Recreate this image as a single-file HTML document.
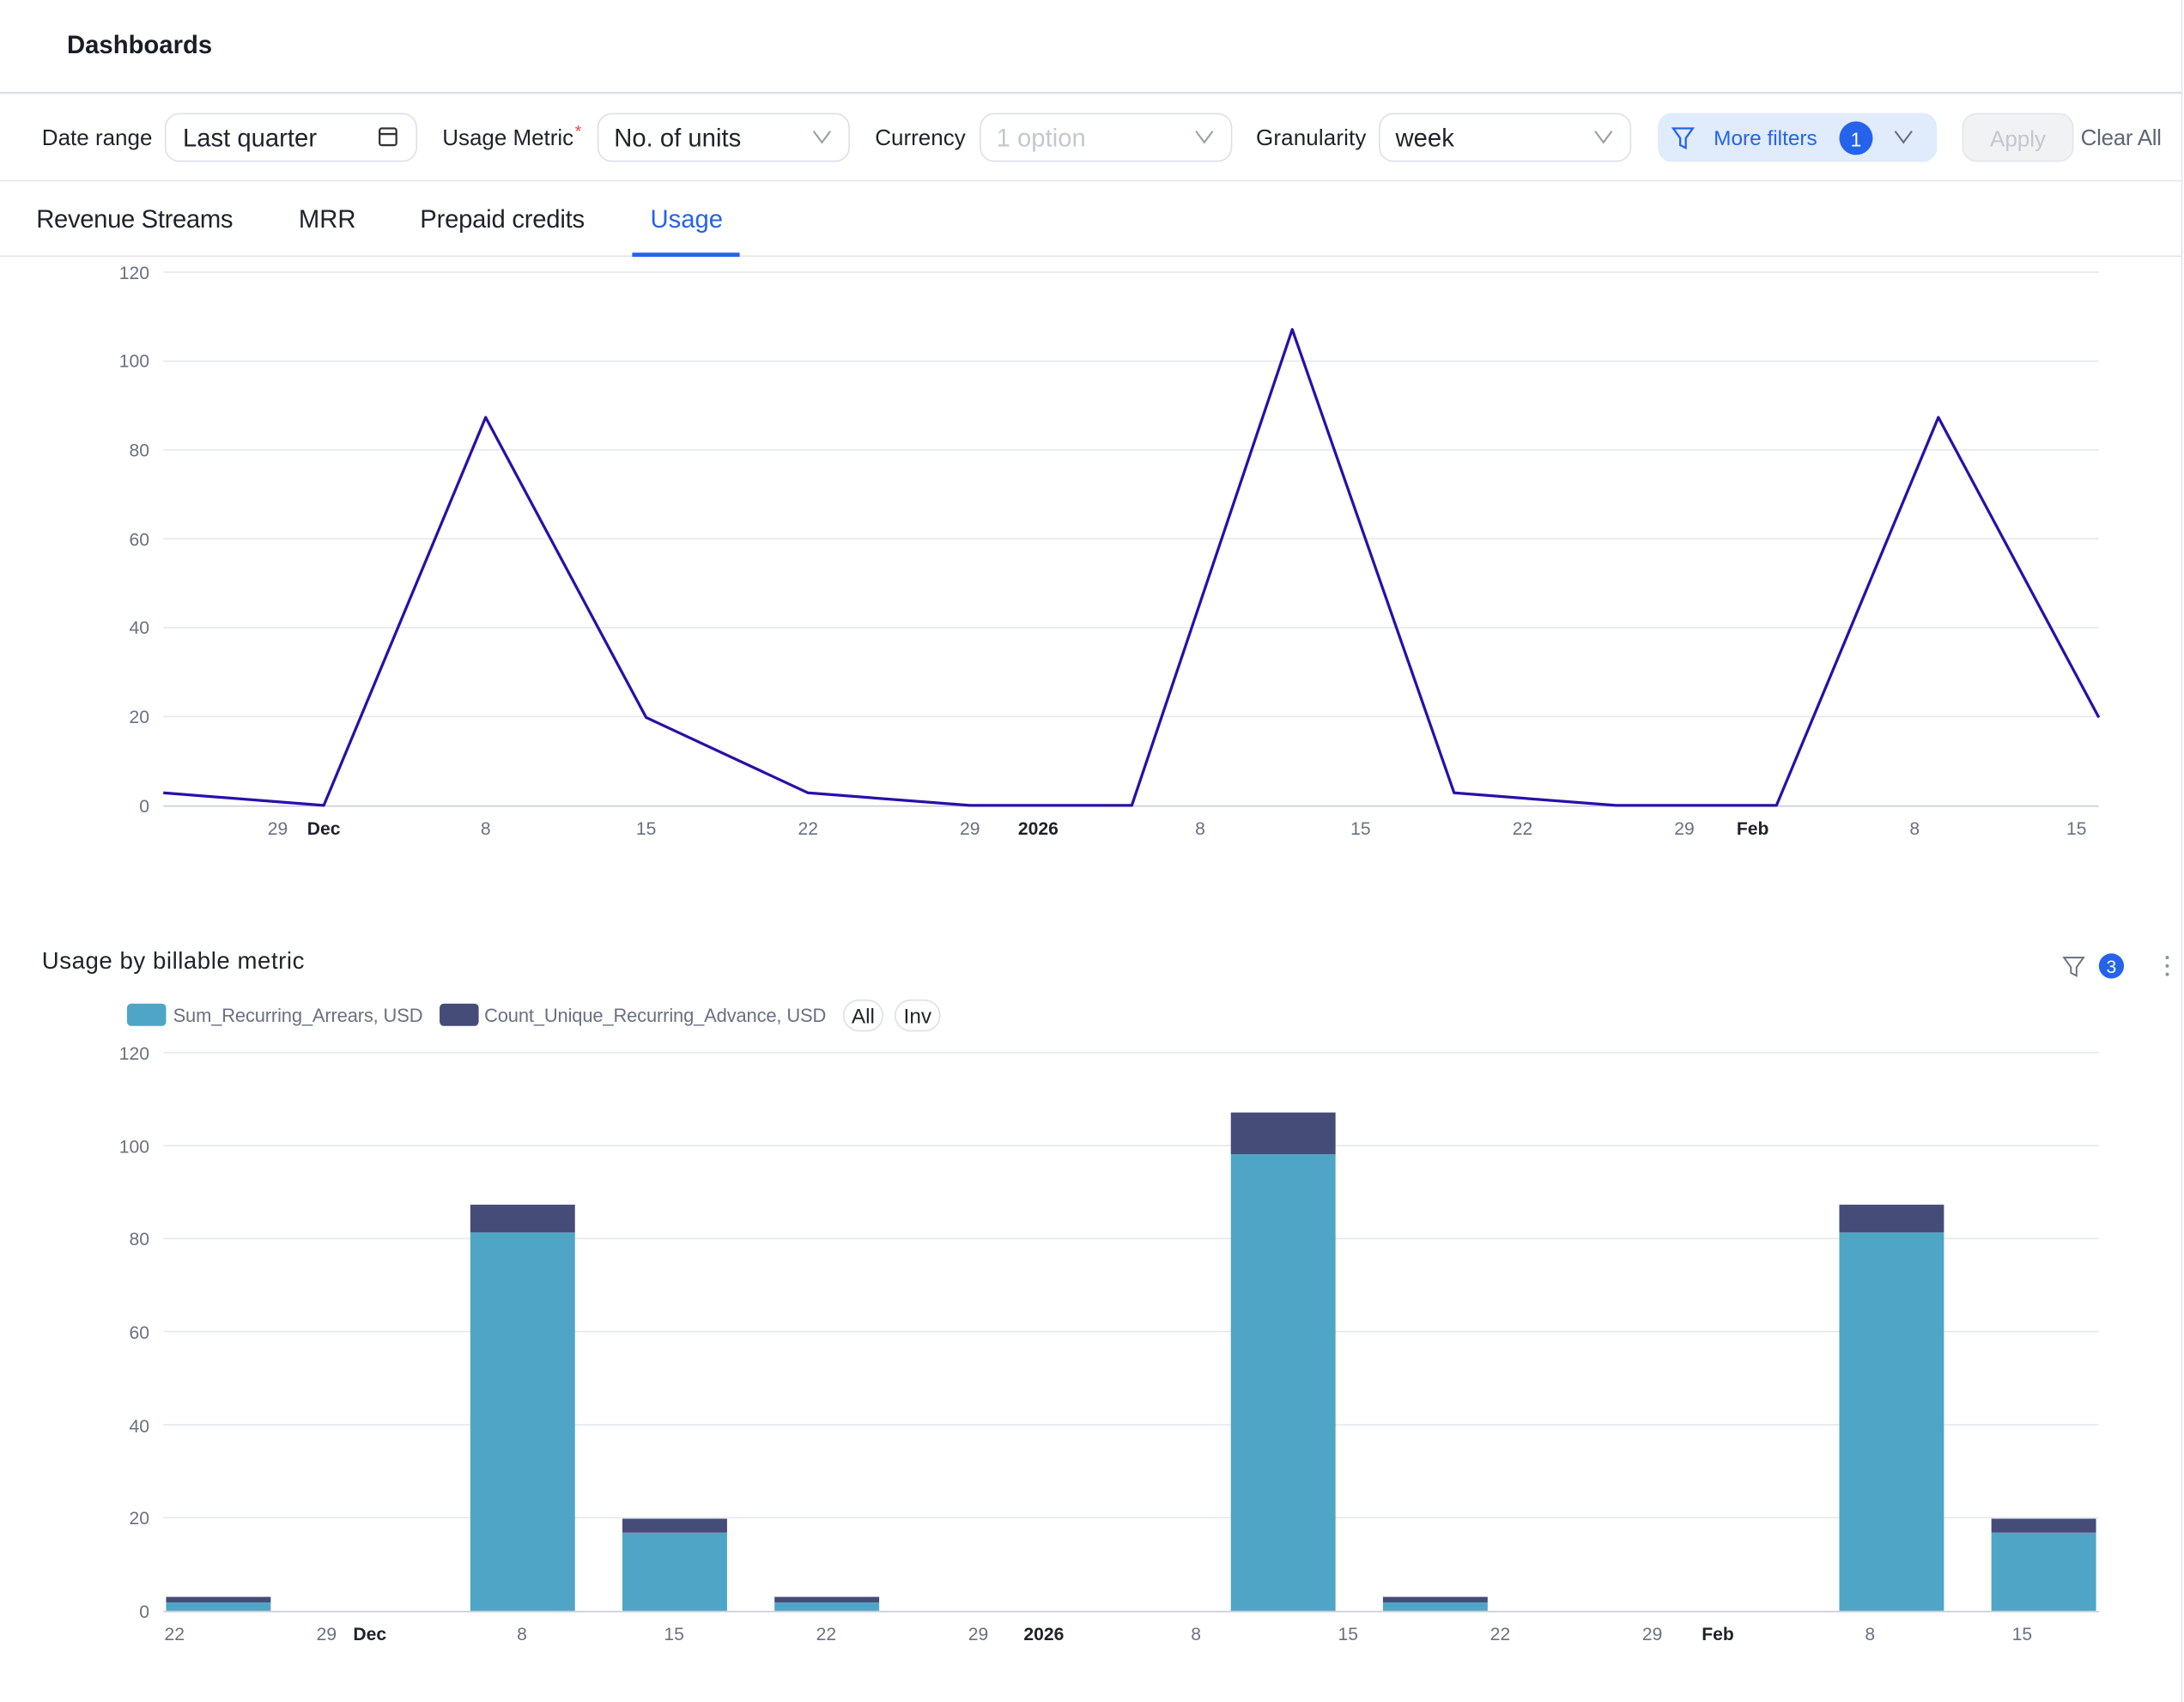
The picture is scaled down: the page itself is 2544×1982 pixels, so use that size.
<!DOCTYPE html>
<html><head><meta charset="utf-8"><style>
html,body{margin:0;padding:0;background:#fff;}
svg{display:block;font-family:"Liberation Sans",Arial,sans-serif;}
</style></head><body>
<svg width="2544" height="1982" viewBox="0 0 1565 1219.3" xmlns="http://www.w3.org/2000/svg">
<rect width="1565" height="1220" fill="#fff"/>
<line x1="1563.5" y1="0" x2="1563.5" y2="1220" stroke="#e3e5ea"/>
<text x="48" y="38" font-size="18" font-weight="bold" fill="#1a1d24">Dashboards</text>
<line x1="0" y1="66.5" x2="1563" y2="66.5" stroke="#dcdfe5" stroke-width="1.5"/>
<g font-size="16" fill="#1f2329">
<text x="30" y="104">Date range</text>
<rect x="118.5" y="81.5" width="180" height="34" rx="10" fill="#fff" stroke="#dde0e6"/>
<text x="131" y="105" font-size="18">Last quarter</text>
<rect x="272" y="92" width="12" height="12" rx="1.5" fill="none" stroke="#333" stroke-width="1.4"/>
<line x1="272" y1="96" x2="284" y2="96" stroke="#333" stroke-width="1.4"/>
<text x="317" y="104" textLength="94">Usage Metric</text><text x="412" y="98" fill="#e5484d" font-size="12">*</text>
<rect x="428.5" y="81.5" width="180" height="34" rx="10" fill="#fff" stroke="#dde0e6"/>
<text x="440" y="105" font-size="18">No. of units</text>
<path d="M583 94 l6 8 l6 -8" fill="none" stroke="#9aa0aa" stroke-width="1.3"/>
<text x="627" y="104">Currency</text>
<rect x="702.5" y="81.5" width="180" height="34" rx="10" fill="#fff" stroke="#dde0e6"/>
<text x="714" y="105" font-size="18" fill="#c4c7cd">1 option</text>
<path d="M857 94 l6 8 l6 -8" fill="none" stroke="#9aa0aa" stroke-width="1.3"/>
<text x="900" y="104" textLength="79">Granularity</text>
<rect x="988.5" y="81.5" width="180" height="34" rx="10" fill="#fff" stroke="#dde0e6"/>
<text x="1000" y="105" font-size="18">week</text>
<path d="M1143 94 l6 8 l6 -8" fill="none" stroke="#9aa0aa" stroke-width="1.3"/>
<rect x="1188" y="81" width="200" height="35" rx="10" fill="#e0ebfc"/>
<path d="M1199 92 h14 l-5 7 v7 l-4 -2 v-5 z" fill="none" stroke="#2563eb" stroke-width="1.4"/>
<text x="1228" y="104" fill="#2563eb" font-size="15">More filters</text>
<circle cx="1330" cy="99" r="12" fill="#2563eb"/>
<text x="1330" y="105" fill="#fff" font-size="14" text-anchor="middle">1</text>
<path d="M1358 94 l6 8 l6 -8" fill="none" stroke="#6a7080" stroke-width="1.3"/>
<rect x="1406.5" y="81.5" width="79" height="34" rx="10" fill="#f1f2f4" stroke="#e3e5ea"/>
<text x="1446" y="105" fill="#c4c7cd" text-anchor="middle">Apply</text>
<text x="1491" y="104" fill="#5e6675" textLength="58">Clear All</text>
</g>
<line x1="0" y1="129.5" x2="1563" y2="129.5" stroke="#e3e5ea"/>
<g font-size="18" fill="#1f2329">
<text x="26" y="163" textLength="141">Revenue Streams</text>
<text x="214" y="163">MRR</text>
<text x="301" y="163" textLength="118">Prepaid credits</text>
<text x="466" y="163" fill="#2563eb">Usage</text>
</g>
<line x1="0" y1="183.5" x2="1563" y2="183.5" stroke="#e3e5ea"/>
<rect x="453" y="181" width="77" height="3" fill="#2563eb"/>
<g stroke="#e6e8ec" stroke-width="1">
<line x1="117" y1="195" x2="1504" y2="195"/><line x1="117" y1="258.7" x2="1504" y2="258.7"/>
<line x1="117" y1="322.3" x2="1504" y2="322.3"/><line x1="117" y1="386" x2="1504" y2="386"/>
<line x1="117" y1="449.7" x2="1504" y2="449.7"/><line x1="117" y1="513.3" x2="1504" y2="513.3"/>
</g>
<line x1="117" y1="577.5" x2="1504" y2="577.5" stroke="#c9ccd8"/>
<g font-size="13" fill="#6a7080" text-anchor="end">
<text x="107" y="200">120</text><text x="107" y="263">100</text><text x="107" y="327">80</text>
<text x="107" y="391">60</text><text x="107" y="454">40</text><text x="107" y="518">20</text><text x="107" y="582">0</text>
</g>
<g font-size="13" fill="#6a7080" text-anchor="middle">
<text x="199" y="598">29</text><text x="232" y="598" font-weight="bold" fill="#1f2329">Dec</text>
<text x="348" y="598">8</text><text x="463" y="598">15</text><text x="579" y="598">22</text><text x="695" y="598">29</text>
<text x="744" y="598" font-weight="bold" fill="#1f2329">2026</text><text x="860" y="598">8</text><text x="975" y="598">15</text>
<text x="1091" y="598">22</text><text x="1207" y="598">29</text><text x="1256" y="598" font-weight="bold" fill="#1f2329">Feb</text>
<text x="1372" y="598">8</text><text x="1488" y="598">15</text>
</g>
<polyline fill="none" stroke="#2a0fa8" stroke-width="2" stroke-linejoin="round" points="117,568 232,577 348,299 463,514 579,568 695,577 811,577 926,236 1042,568 1158,577 1273,577 1389,299 1504,514"/>
<text x="30" y="694" font-size="17" fill="#1f2329" textLength="188">Usage by billable metric</text>
<path d="M1479 686 h14 l-5 7 v6 l-4 -2 v-4 z" fill="none" stroke="#6a7080" stroke-width="1.2"/>
<circle cx="1513" cy="692" r="9" fill="#2563eb"/>
<text x="1513" y="697" font-size="13" fill="#fff" text-anchor="middle">3</text>
<g fill="#8a909c"><circle cx="1553" cy="686" r="1.2"/><circle cx="1553" cy="692" r="1.2"/><circle cx="1553" cy="698" r="1.2"/></g>
<rect x="91" y="719" width="28" height="16" rx="3" fill="#4fa5c5"/>
<text x="124" y="732" font-size="13.5" fill="#6a7080" textLength="179">Sum_Recurring_Arrears, USD</text>
<rect x="315" y="719" width="28" height="16" rx="3" fill="#454c78"/>
<text x="347" y="732" font-size="13.5" fill="#6a7080" textLength="245">Count_Unique_Recurring_Advance, USD</text>
<rect x="604.5" y="716.5" width="28" height="22" rx="11" fill="#fff" stroke="#dde0e6"/>
<text x="618.5" y="733" font-size="15" fill="#1f2329" text-anchor="middle">All</text>
<rect x="641.5" y="716.5" width="32" height="22" rx="11" fill="#fff" stroke="#dde0e6"/>
<text x="657.5" y="733" font-size="15" fill="#1f2329" text-anchor="middle">Inv</text>
<g stroke="#e6e8ec">
<line x1="117" y1="754" x2="1504" y2="754"/><line x1="117" y1="820.7" x2="1504" y2="820.7"/>
<line x1="117" y1="887.3" x2="1504" y2="887.3"/><line x1="117" y1="954" x2="1504" y2="954"/>
<line x1="117" y1="1020.7" x2="1504" y2="1020.7"/><line x1="117" y1="1087.3" x2="1504" y2="1087.3"/>
</g>
<g font-size="13" fill="#6a7080" text-anchor="end">
<text x="107" y="759">120</text><text x="107" y="826">100</text><text x="107" y="892">80</text>
<text x="107" y="959">60</text><text x="107" y="1026">40</text><text x="107" y="1092">20</text><text x="107" y="1159">0</text>
</g>
<g>
<rect x="119" y="1144" width="75" height="4" fill="#454c78"/><rect x="119" y="1148" width="75" height="6" fill="#4fa5c5"/>
<rect x="337" y="863" width="75" height="20" fill="#454c78"/><rect x="337" y="883" width="75" height="271" fill="#4fa5c5"/>
<rect x="446" y="1088" width="75" height="10" fill="#454c78"/><rect x="446" y="1098" width="75" height="56" fill="#4fa5c5"/>
<rect x="555" y="1144" width="75" height="4" fill="#454c78"/><rect x="555" y="1148" width="75" height="6" fill="#4fa5c5"/>
<rect x="882" y="797" width="75" height="30" fill="#454c78"/><rect x="882" y="827" width="75" height="327" fill="#4fa5c5"/>
<rect x="991" y="1144" width="75" height="4" fill="#454c78"/><rect x="991" y="1148" width="75" height="6" fill="#4fa5c5"/>
<rect x="1318" y="863" width="75" height="20" fill="#454c78"/><rect x="1318" y="883" width="75" height="271" fill="#4fa5c5"/>
<rect x="1427" y="1088" width="75" height="10" fill="#454c78"/><rect x="1427" y="1098" width="75" height="56" fill="#4fa5c5"/>
</g>
<line x1="117" y1="1154.5" x2="1504" y2="1154.5" stroke="#c9ccd8"/>
<g font-size="13" fill="#6a7080" text-anchor="middle">
<text x="125" y="1175">22</text><text x="234" y="1175">29</text><text x="265" y="1175" font-weight="bold" fill="#1f2329">Dec</text>
<text x="374" y="1175">8</text><text x="483" y="1175">15</text><text x="592" y="1175">22</text><text x="701" y="1175">29</text>
<text x="748" y="1175" font-weight="bold" fill="#1f2329">2026</text><text x="857" y="1175">8</text><text x="966" y="1175">15</text>
<text x="1075" y="1175">22</text><text x="1184" y="1175">29</text><text x="1231" y="1175" font-weight="bold" fill="#1f2329">Feb</text>
<text x="1340" y="1175">8</text><text x="1449" y="1175">15</text>
</g>
</svg>
</body></html>
